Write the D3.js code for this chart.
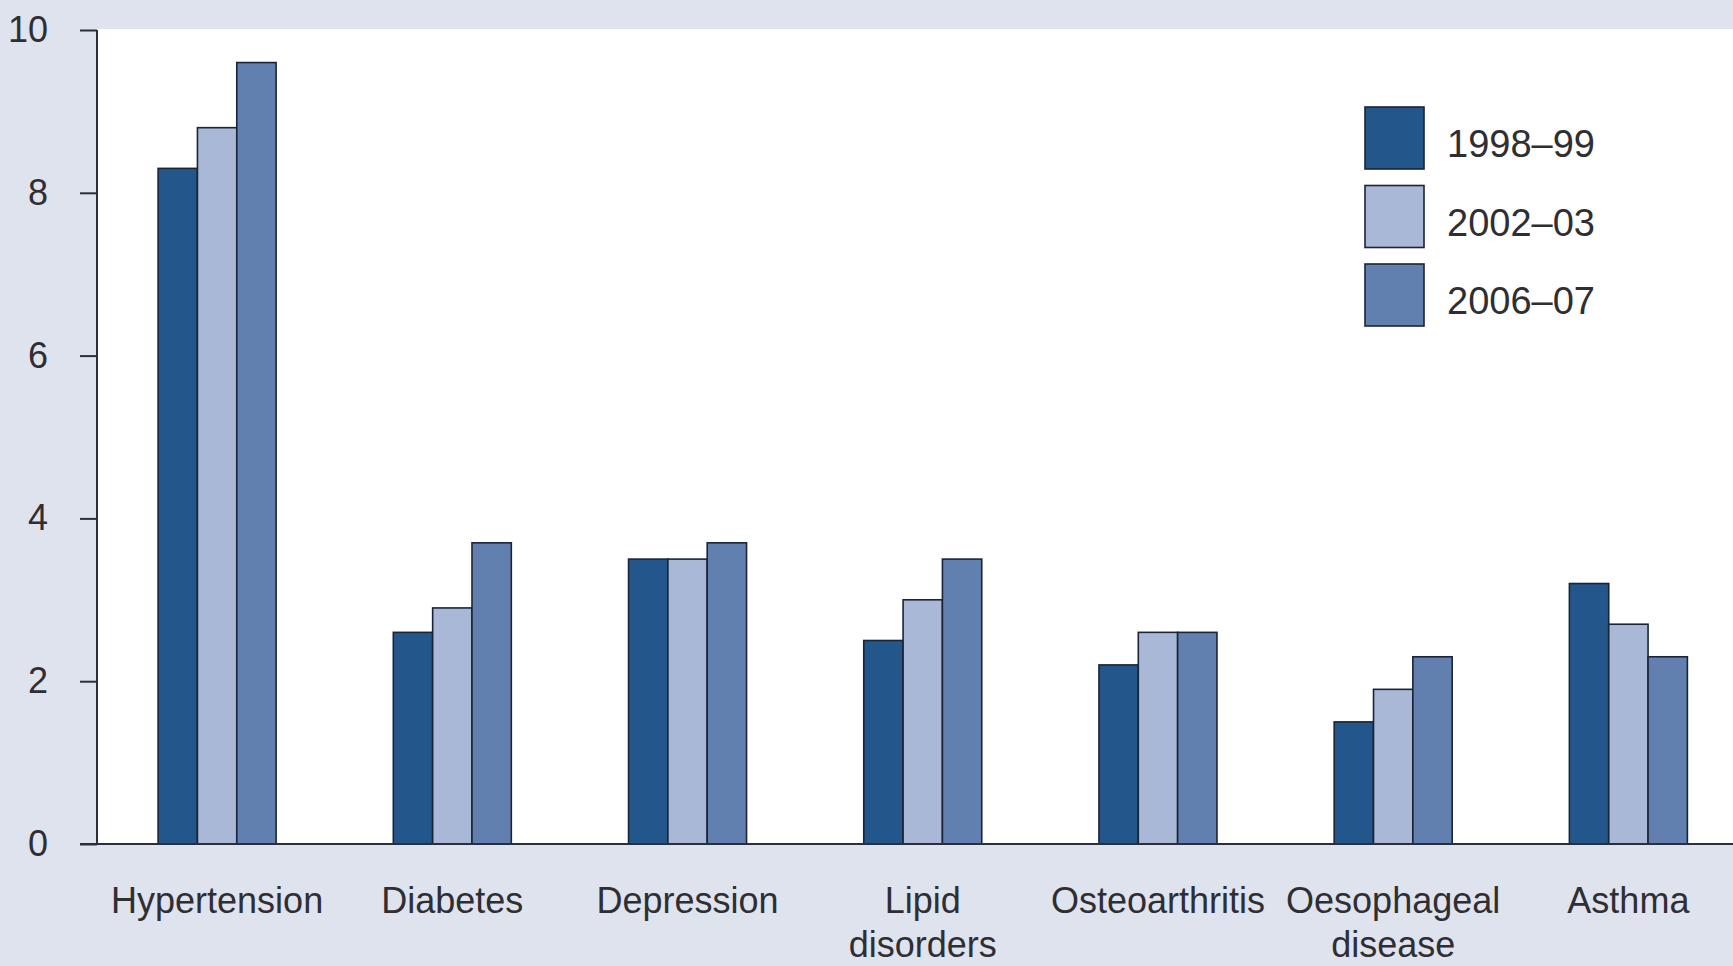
<!DOCTYPE html>
<html>
<head>
<meta charset="utf-8">
<script src="https://cdn.jsdelivr.net/npm/d3@7"></script>
<style>
  html, body { margin: 0; padding: 0; background: #dfe3ed; }
  svg { display: block; }
  text { font-family: "Liberation Sans", Arial, sans-serif; fill: #2e2e33; }
</style>
</head>
<body>
<svg id="chart" width="1733" height="966"></svg>
<script>
// Categories (label lines) and per-period values
const categories = [
  ["Hypertension"],
  ["Diabetes"],
  ["Depression"],
  ["Lipid", "disorders"],
  ["Osteoarthritis"],
  ["Oesophageal", "disease"],
  ["Asthma"]
];
const periods = ["1998–99", "2002–03", "2006–07"];
const values1998 = [8.3, 2.6, 3.5, 2.5, 2.2, 1.5, 3.2];
const values2002 = [8.8, 2.9, 3.5, 3.0, 2.6, 1.9, 2.7];
const values2006 = [9.6, 3.7, 3.7, 3.5, 2.6, 2.3, 2.3];
const yTicks = [0, 2, 4, 6, 8, 10];

const seriesValues = [values1998, values2002, values2006];
const colors = ["#23578c", "#a8b8d6", "#6180b0"];
const strokeColor = "#1b2436";

const svg = d3.select("#chart");
const W = 1733, H = 966;
const plot = { left: 97, top: 30, bottom: 844, right: W };

const catKeys = categories.map((c, i) => i);
const x = d3.scaleBand().domain(catKeys).range([99.5, 1746]).paddingInner(0).paddingOuter(0);
const groupW = 118;
const xSub = d3.scaleBand().domain(d3.range(periods.length)).range([0, groupW]);
const y = d3.scaleLinear().domain([0, 10]).range([plot.bottom, plot.top]);

// White plotting area
svg.append("rect")
  .attr("x", plot.left).attr("y", plot.top - 1)
  .attr("width", plot.right - plot.left).attr("height", plot.bottom - plot.top + 1)
  .attr("fill", "#ffffff");

// Bars
const groups = svg.append("g").selectAll("g")
  .data(catKeys).join("g")
  .attr("transform", d => `translate(${x(d) + x.bandwidth() / 2 - groupW / 2},0)`);

groups.selectAll("rect")
  .data(ci => seriesValues.map((vals, si) => ({ si, v: vals[ci] })))
  .join("rect")
  .attr("x", d => xSub(d.si))
  .attr("y", d => y(d.v))
  .attr("width", xSub.bandwidth())
  .attr("height", d => y(0) - y(d.v))
  .attr("fill", d => colors[d.si])
  .attr("stroke", strokeColor)
  .attr("stroke-width", 1.6);

// Y axis
const yAxis = d3.axisLeft(y).tickValues(yTicks).tickSize(17).tickPadding(32).tickFormat(d3.format("d"));
const yg = svg.append("g").attr("transform", `translate(${plot.left},0)`).call(yAxis);
yg.select(".domain").attr("stroke", "#2b2f3a").attr("stroke-width", 2).attr("d", `M0,${y(10)}V${y(0)}`);
yg.selectAll(".tick line").attr("stroke", "#2b2f3a").attr("stroke-width", 2);
yg.selectAll(".tick text").attr("font-size", 36).attr("fill", "#2e2e33")
  .attr("font-family", "'Liberation Sans', Arial, sans-serif");

// Baseline
svg.append("line")
  .attr("x1", 80).attr("x2", W)
  .attr("y1", y(0)).attr("y2", y(0))
  .attr("stroke", "#2b2f3a").attr("stroke-width", 2);

// Category labels
const xLabels = svg.append("g").selectAll("text")
  .data(catKeys).join("text")
  .attr("x", d => x(d) + x.bandwidth() / 2)
  .attr("y", 913)
  .attr("text-anchor", "middle")
  .attr("font-size", 36);
xLabels.selectAll("tspan")
  .data(d => categories[d].map((line, i) => ({ line, i, cx: x(d) + x.bandwidth() / 2 })))
  .join("tspan")
  .attr("x", d => d.cx)
  .attr("dy", d => d.i === 0 ? 0 : 44)
  .text(d => d.line);

// Legend
const legend = svg.append("g").attr("transform", "translate(1365,107)");
const items = legend.selectAll("g").data(periods).join("g")
  .attr("transform", (d, i) => `translate(0,${i * 78.5})`);
items.append("rect")
  .attr("width", 59).attr("height", 62)
  .attr("fill", (d, i) => colors[i])
  .attr("stroke", strokeColor).attr("stroke-width", 1.6);
items.append("text")
  .attr("x", 82).attr("y", 37)
  .attr("dy", "0.35em")
  .attr("font-size", 38)
  .text(d => d);
</script>
</body>
</html>
